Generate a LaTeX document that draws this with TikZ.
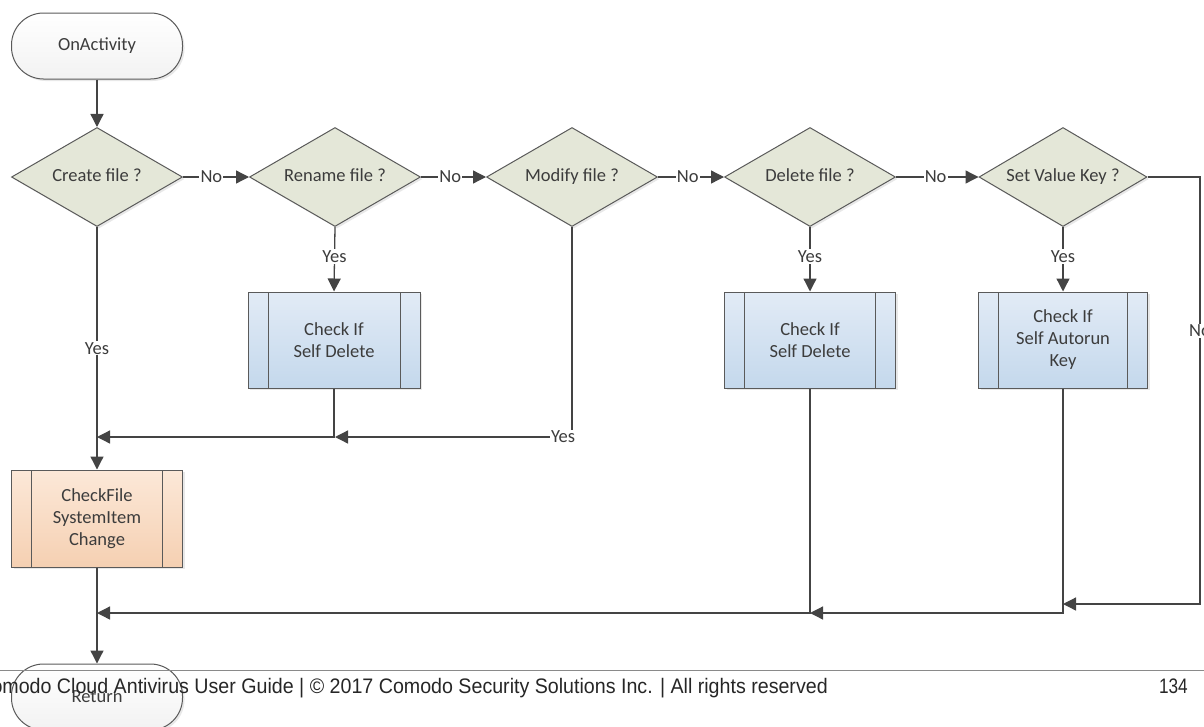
\documentclass[tikz,border=0pt]{standalone}
\usepackage{fontspec}
\setmainfont{Carlito}
\newfontfamily\footfont{Liberation Sans}
\usetikzlibrary{shapes.geometric,arrows.meta,shadows}
\definecolor{lineC}{HTML}{444444}
\definecolor{bordC}{HTML}{5A5A5A}
\definecolor{txtC}{HTML}{3C3C3C}
\definecolor{decC}{HTML}{E4E7D8}
\definecolor{blueT}{HTML}{E2EBF6}
\definecolor{blueB}{HTML}{C4D8EC}
\definecolor{orT}{HTML}{FCE8D8}
\definecolor{orB}{HTML}{F5D0B2}
\definecolor{footC}{HTML}{8A8A8A}
\newcommand{\dtext}[1]{\makebox[0pt]{\vphantom{Cy}#1}}
\begin{document}
\begin{tikzpicture}[x=1pt,y=-1pt,
  base/.style={font=\fontsize{18.5}{22}\selectfont, text=txtC, align=center, inner sep=0pt},
  shd/.style={drop shadow={shadow xshift=2pt, shadow yshift=-2pt, opacity=0.18, fill=gray}},
  term/.style={base, rectangle, draw=bordC, line width=1pt, rounded corners=32pt,
    minimum width=171pt, minimum height=66pt, top color=white, bottom color=gray!10, shd},
  dec/.style={base, diamond, aspect=1, draw=bordC, line width=1pt, fill=decC,
    minimum width=171pt, minimum height=99pt, shd},
  subp/.style={base, rectangle, draw=bordC, line width=1pt,
    minimum width=171pt, minimum height=96pt, shd,
    path picture={
      \draw[bordC, line width=1pt]
        ([xshift=20pt]path picture bounding box.north west) -- ([xshift=20pt]path picture bounding box.south west)
        ([xshift=-20pt]path picture bounding box.north east) -- ([xshift=-20pt]path picture bounding box.south east);}},
  bluebox/.style={subp, top color=blueT, bottom color=blueB},
  orbox/.style={subp, top color=orT, bottom color=orB},
  conn/.style={draw=lineC, line width=1.3pt, -{Triangle[length=13pt,width=13pt]}},
  lbl/.style={base, fill=white, inner sep=1.2pt},
  foot/.style={anchor=base east, inner sep=0pt, text=black!85, font=\footfont\fontsize{21}{21}\selectfont}
]
\useasboundingbox (0,0) rectangle (1204,726);

% nodes
\node[term] (start) at (97,46) {OnActivity};
\node[dec] (d1) at (97,177) {\dtext{Create file ?}};
\node[dec] (d2) at (335,177) {\dtext{Rename file ?}};
\node[dec] (d3) at (572,177) {\dtext{Modify file ?}};
\node[dec] (d4) at (810,177) {\dtext{Delete file ?}};
\node[dec, minimum width=168pt] (d5) at (1063,177) {\dtext{Set Value Key ?}};
\node[bluebox, minimum width=172pt] (b2) at (334,340) {Check If\\Self Delete};
\node[bluebox] (b4) at (810,340) {Check If\\Self Delete};
\node[bluebox, minimum width=169pt] (b5) at (1063,340) {Check If\\Self Autorun\\Key};
\node[orbox, minimum height=97pt] (b1) at (97,518.5) {CheckFile\\SystemItem\\Change};
\node[term] (stop) at (97,697) {Return};

% junction coordinates
\coordinate (m1) at (97,437);
\coordinate (m2) at (335,437);
\coordinate (m3) at (97,613);
\coordinate (m4) at (810,613);
\coordinate (m5) at (1063,604);
\coordinate (r1) at (1200,604);

% connectors
\draw[conn] (start) -- (d1);
\draw[conn] (d1.east) -- node[lbl, pos=0.43] {No} (d2.west);
\draw[conn] (d2.east) -- node[lbl, pos=0.45] {No} (d3.west);
\draw[conn] (d3.east) -- node[lbl, pos=0.45] {No} (d4.west);
\draw[conn] (d4.east) -- node[lbl, pos=0.48] {No} (d5.west);
\draw[conn] (d1.south) -- node[lbl, pos=0.5] {Yes} (b1.north);
\draw[conn] (d2.south) -- node[lbl, pos=0.46] {Yes} (b2.north);
\draw[conn] (d4.south) -- node[lbl, pos=0.46] {Yes} (b4.north);
\draw[conn] (d5.south) -- node[lbl, pos=0.46] {Yes} (b5.north);
\draw[conn] (b2.south) |- (m1);
\draw[conn] (d3.south) |- node[lbl, pos=0.5, anchor=east, xshift=5pt] {Yes} (m2);
\draw[conn] (b1.south) -- (stop.north);
\draw[conn] (b4.south) |- (m3);
\draw[conn] (b5.south) |- (m4);
\draw[conn] (d5.east) -| node[lbl, pos=0.68] {No} (r1) -- (m5);

% footer
\coordinate (fl) at (0,670);
\coordinate (fr) at (1204,670);
\draw[footC, line width=1pt] (fl) -- (fr);
\node[foot] (foottext) at (828,693)
  {\scalebox{0.935}[1]{Comodo Cloud Antivirus User Guide | © 2017 Comodo Security Solutions Inc. | All rights reserved}};
\node[foot] (page) at (1188,693) {\scalebox{0.82}[1]{134}};
\end{tikzpicture}
\end{document}
